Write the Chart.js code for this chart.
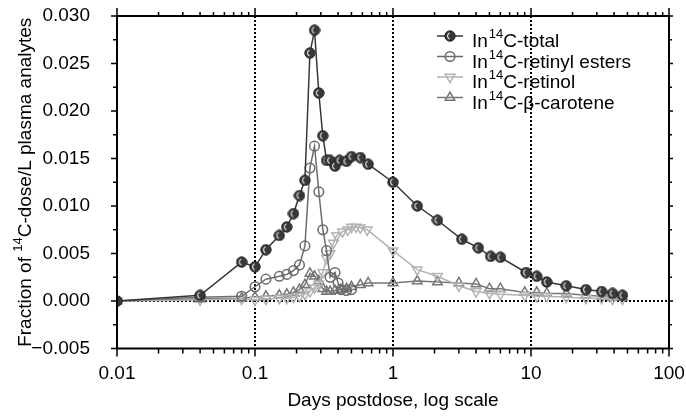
<!DOCTYPE html>
<html>
<head>
<meta charset="utf-8">
<script src="https://cdn.jsdelivr.net/npm/chart.js@4"></script>
<style>
    html, body { margin: 0; padding: 0; background: #fff; }
    canvas { display: block; }
</style>
</head>
<body>
<canvas id="plasmaChart" width="686" height="418"></canvas>
<script>
// Sampling times (days postdose) and plasma fractions
const totalDays = [0.01, 0.04, 0.08, 0.1, 0.12, 0.15, 0.17, 0.19, 0.21, 0.23, 0.25, 0.27, 0.29, 0.31, 0.33, 0.35, 0.38, 0.41, 0.46, 0.5, 0.58, 0.66, 1.0, 1.5, 2.1, 3.15, 4.15, 5.1, 6.0, 9.2, 11, 13, 18, 25, 32.5, 39, 46];
const totalValues = [0, 0.0006, 0.0041, 0.0036, 0.0054, 0.0069, 0.0078, 0.0092, 0.0111, 0.0127, 0.0261, 0.0285, 0.0219, 0.0174, 0.0148, 0.0148, 0.0142, 0.0148, 0.0147, 0.0152, 0.0151, 0.0144, 0.0125, 0.0100, 0.0085, 0.0065, 0.0056, 0.0047, 0.0046, 0.0030, 0.0026, 0.0020, 0.0016, 0.0012, 0.0010, 0.0008, 0.0006];

const esterDays = [0.01, 0.04, 0.08, 0.1, 0.12, 0.15, 0.17, 0.19, 0.21, 0.23, 0.25, 0.27, 0.29, 0.31, 0.33, 0.35, 0.38, 0.40, 0.42, 0.46, 0.5];
const esterValues = [0, 0.0004, 0.0005, 0.0015, 0.0023, 0.0026, 0.0028, 0.0032, 0.0038, 0.0058, 0.0140, 0.0163, 0.0115, 0.0075, 0.0053, 0.0025, 0.0030, 0.0019, 0.0012, 0.0011, 0.0012];

const retinolDays = [0.01, 0.04, 0.08, 0.1, 0.12, 0.15, 0.17, 0.19, 0.21, 0.23, 0.25, 0.27, 0.29, 0.31, 0.33, 0.35, 0.37, 0.39, 0.43, 0.47, 0.5, 0.54, 0.58, 0.65, 1.0, 1.5, 2.1, 3.0, 4.0, 5.0, 6.0, 9.0, 11, 13, 18, 25, 32.5, 39, 46];
const retinolValues = [0, 0.0001, 0.0002, 0.0001, 0.0002, 0.0003, 0.0003, 0.0004, 0.0005, 0.0007, 0.0010, 0.0014, 0.0018, 0.0030, 0.0045, 0.0050, 0.0061, 0.0069, 0.0073, 0.0075, 0.0078, 0.0078, 0.0077, 0.0075, 0.0053, 0.0033, 0.0026, 0.0016, 0.0010, 0.0008, 0.0007, 0.0006, 0.0005, 0.0005, 0.0004, 0.0003, 0.0003, 0.0002, 0.0002];

const caroteneDays = [0.01, 0.04, 0.08, 0.1, 0.12, 0.15, 0.17, 0.19, 0.21, 0.23, 0.25, 0.27, 0.29, 0.31, 0.33, 0.35, 0.38, 0.42, 0.46, 0.5, 0.58, 0.66, 1.0, 1.5, 2.1, 3.0, 4.0, 5.0, 6.0, 9.0, 11, 13, 18, 25, 32.5, 39, 46];
const caroteneValues = [0, 0.0002, 0.0003, 0.0004, 0.0005, 0.0006, 0.0007, 0.0009, 0.0012, 0.0017, 0.0029, 0.0026, 0.0021, 0.0013, 0.0010, 0.0010, 0.0011, 0.0012, 0.0013, 0.0015, 0.0017, 0.0019, 0.0019, 0.0021, 0.0020, 0.0019, 0.0018, 0.0013, 0.0013, 0.0009, 0.0009, 0.0008, 0.0008, 0.0006, 0.0005, 0.0004, 0.0004];

// Axis ticks and texts
const xTickValues = [0.01, 0.1, 1, 10, 100];
const xTickLabels = ['0.01', '0.1', '1', '10', '100'];
const xGuideLines = [0.1, 1, 10];
const legendNames = ['C-total', 'C-retinyl esters', 'C-retinol', 'C-\u03b2-carotene'];
const xTitle = 'Days postdose, log scale';
const yTitleParts = ['Fraction of ', '14', 'C-dose/L plasma analytes'];

const FONT = '"Liberation Sans", Arial, Helvetica, sans-serif';

function points(days, values) {
    return days.map((d, i) => ({ x: d, y: values[i] }));
}

// Shaded filled circle used for the total series
function shadedDot() {
    const c = document.createElement('canvas');
    c.width = 12;
    c.height = 12;
    const g = c.getContext('2d');
    g.beginPath();
    g.arc(6, 6, 5.2, 0, Math.PI * 2);
    g.fillStyle = '#383838';
    g.fill();
    g.lineWidth = 1;
    g.strokeStyle = '#262626';
    g.stroke();
    g.beginPath();
    g.arc(6.8, 6, 3.2, Math.PI * 0.62, Math.PI * 1.38);
    g.strokeStyle = '#e6e6e6';
    g.lineWidth = 1.1;
    g.stroke();
    return c;
}
const dot = shadedDot();

// Series styles
const series = [
    { data: points(totalDays, totalValues), color: '#363636', fill: '#3c3c3c', style: dot, rot: 0, r: 4.5 },
    { data: points(esterDays, esterValues), color: '#6b6b6b', fill: 'rgba(255,255,255,0)', style: 'circle', rot: 0, r: 4.8 },
    { data: points(retinolDays, retinolValues), color: '#b3b3b3', fill: 'rgba(255,255,255,0)', style: 'triangle', rot: 180, r: 5.5 },
    { data: points(caroteneDays, caroteneValues), color: '#777777', fill: 'rgba(255,255,255,0)', style: 'triangle', rot: 0, r: 5.5 }
];

// Dotted guides, frame, outward ticks, legend and y title
const framePlugin = {
    id: 'frame',
    beforeDatasetsDraw(chart) {
        const { ctx, chartArea: a, scales: { x, y } } = chart;
        ctx.save();
        ctx.strokeStyle = '#000';
        ctx.lineWidth = 2;
        ctx.setLineDash([2, 2]);
        xGuideLines.forEach(v => {
            const px = Math.round(x.getPixelForValue(v));
            ctx.beginPath();
            ctx.moveTo(px, a.top);
            ctx.lineTo(px, a.bottom);
            ctx.stroke();
        });
        const py = Math.round(y.getPixelForValue(0));
        ctx.beginPath();
        ctx.moveTo(a.left, py);
        ctx.lineTo(a.right, py);
        ctx.stroke();
        ctx.restore();
    },
    afterDraw(chart) {
        const { ctx, chartArea: a, scales: { x, y } } = chart;
        ctx.save();
        ctx.strokeStyle = '#000';
        ctx.lineWidth = 2;
        ctx.strokeRect(a.left, a.top, a.right - a.left, a.bottom - a.top);

        ctx.lineWidth = 1.5;
        ctx.beginPath();
        // log x ticks, top and bottom
        for (let e = -2; e <= 2; e++) {
            for (let m = 1; m <= 9; m++) {
                const v = m * Math.pow(10, e);
                if (v > 100.0001) break;
                const px = x.getPixelForValue(v);
                ctx.moveTo(px, a.bottom);
                ctx.lineTo(px, a.bottom + (m === 1 ? 8 : 5));
                ctx.moveTo(px, a.top);
                ctx.lineTo(px, a.top - (m === 1 ? 8 : 4));
            }
        }
        // y ticks, left and right
        for (let k = 0; k <= 14; k++) {
            const v = -0.005 + k * 0.0025;
            const py = y.getPixelForValue(v);
            const major = k % 2 === 0;
            ctx.moveTo(a.left, py);
            ctx.lineTo(a.left - (major ? 6 : 4), py);
            ctx.moveTo(a.right, py);
            ctx.lineTo(a.right + (major ? 4 : 3), py);
        }
        ctx.stroke();

        // legend
        ctx.textBaseline = 'alphabetic';
        ctx.textAlign = 'left';
        series.forEach((s, i) => {
            const cy = 36 + i * 20.5;
            ctx.strokeStyle = s.color;
            ctx.lineWidth = 1.5;
            ctx.beginPath();
            ctx.moveTo(437, cy);
            ctx.lineTo(463, cy);
            ctx.stroke();
            ctx.fillStyle = s.fill;
            ctx.strokeStyle = s.color;
            Chart.helpers.drawPoint(ctx, { pointStyle: s.style, radius: s.r, rotation: s.rot, borderWidth: 1.5 }, 450, cy);
            ctx.fillStyle = '#000';
            const base = cy + 11;
            let tx = 472;
            ctx.font = '19px ' + FONT;
            ctx.fillText('In', tx, base);
            tx += ctx.measureText('In').width + 1;
            ctx.font = '13px ' + FONT;
            ctx.fillText('14', tx, base - 9);
            tx += ctx.measureText('14').width;
            ctx.font = '19px ' + FONT;
            ctx.fillText(legendNames[i], tx, base);
        });

        // rotated y title with superscript
        ctx.translate(31, (a.top + a.bottom) / 2);
        ctx.rotate(-Math.PI / 2);
        ctx.font = '19px ' + FONT;
        const w0 = ctx.measureText(yTitleParts[0]).width;
        const w2 = ctx.measureText(yTitleParts[2]).width;
        ctx.font = '13px ' + FONT;
        const w1 = ctx.measureText(yTitleParts[1]).width;
        let tx = -(w0 + w1 + w2) / 2;
        ctx.fillStyle = '#000';
        ctx.font = '19px ' + FONT;
        ctx.fillText(yTitleParts[0], tx, 0);
        tx += w0;
        ctx.font = '13px ' + FONT;
        ctx.fillText(yTitleParts[1], tx, -9);
        tx += w1;
        ctx.font = '19px ' + FONT;
        ctx.fillText(yTitleParts[2], tx, 0);
        ctx.restore();
    }
};

new Chart(document.getElementById('plasmaChart'), {
    type: 'line',
    data: {
        datasets: series.map(s => ({
            data: s.data,
            borderColor: s.color,
            borderWidth: 1.5,
            pointStyle: s.style,
            pointRotation: s.rot,
            pointRadius: s.r,
            pointBorderWidth: 1.5,
            pointBorderColor: s.color,
            pointBackgroundColor: s.fill,
            tension: 0,
            fill: false
        }))
    },
    options: {
        responsive: false,
        animation: false,
        devicePixelRatio: 1,
        layout: { padding: { top: 16, right: 17, left: 0, bottom: 0 } },
        plugins: {
            legend: { display: false },
            tooltip: { enabled: false }
        },
        scales: {
            x: {
                type: 'logarithmic',
                min: 0.01,
                max: 100,
                afterBuildTicks: scale => {
                    scale.ticks = xTickValues.map(v => ({ value: v, major: true }));
                },
                afterFit: scale => {
                    scale.height = 69.5;
                    scale.paddingLeft = 0;
                    scale.paddingRight = 0;
                },
                grid: { display: false, drawTicks: false },
                border: { display: false },
                ticks: {
                    autoSkip: false,
                    maxRotation: 0,
                    padding: 14,
                    color: '#000',
                    font: { family: FONT, size: 19 },
                    callback: (v, i) => xTickLabels[i]
                },
                title: {
                    display: true,
                    text: xTitle,
                    color: '#000',
                    font: { family: FONT, size: 19 },
                    padding: { top: 0, bottom: 6 }
                }
            },
            y: {
                min: -0.005,
                max: 0.03,
                afterFit: scale => {
                    scale.width = 117;
                    scale.paddingTop = 0;
                    scale.paddingBottom = 0;
                },
                grid: { display: false, drawTicks: false },
                border: { display: false },
                ticks: {
                    stepSize: 0.005,
                    padding: 27,
                    color: '#000',
                    font: { family: FONT, size: 19 },
                    callback: v => {
                        const s = Math.abs(v).toFixed(3);
                        return v < -1e-9 ? '\u2212' + s : s;
                    }
                }
            }
        }
    },
    plugins: [framePlugin]
});
</script>
</body>
</html>
